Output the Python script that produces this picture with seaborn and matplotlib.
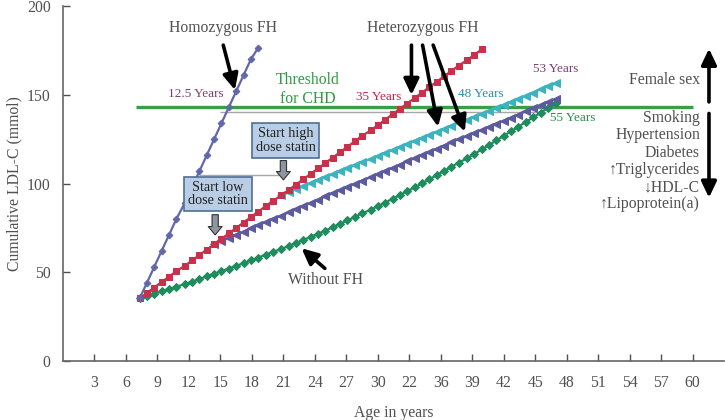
import matplotlib
matplotlib.use("Agg")
import matplotlib.pyplot as plt
import pandas as pd
import seaborn as sns

# ---------------- data ----------------
# x positions of the yearly points on the drawn age axis
x_age = [7.3, 8.0, 8.7, 9.4, 10.1, 10.8, 11.6, 12.3, 13.0, 13.7, 14.4, 15.1, 15.8,
         16.5, 17.2, 17.9, 18.6, 19.3, 20.0, 20.8, 21.5, 22.2, 22.9, 23.6, 24.3,
         25.0, 25.7, 26.4, 27.1, 27.8, 28.5, 29.3, 30.0, 30.7, 31.4, 32.1, 32.8,
         33.5, 34.2, 34.9, 35.6, 36.3, 37.0, 37.7, 38.5, 39.2, 39.9, 40.6, 41.3,
         42.0, 42.7, 43.4, 44.1, 44.8, 45.5, 46.2, 47.0]

homozygous = [35.3, 44.1, 53.1, 62.1, 71.0, 80.0, 89.0, 98.0, 107.0, 116.0, 125.0,
              134.0, 143.0, 152.0, 161.0, 170.0, 176.5]
homozygous_start = 0

heterozygous = [35.3, 38.4, 41.4, 44.5, 47.5, 50.6, 53.6, 56.7, 59.7, 62.8, 65.8,
                68.9, 71.9, 75.0, 78.0, 81.1, 84.1, 87.2, 90.2, 93.3, 96.3, 99.4,
                102.4, 105.5, 108.5, 111.6, 114.6, 117.7, 120.7, 123.8, 126.8, 129.9,
                132.9, 136.0, 139.0, 142.1, 145.1, 148.2, 151.2, 154.3, 157.3, 160.4,
                163.4, 166.5, 169.5, 172.6, 175.6]
heterozygous_start = 0

low_dose = [65.8, 67.6, 69.4, 71.1, 72.9, 74.7, 76.5, 78.3, 80.1, 81.9, 83.7, 85.5,
            87.3, 89.1, 90.9, 92.7, 94.5, 96.3, 98.1, 99.9, 101.7, 103.5, 105.3,
            107.1, 108.9, 110.7, 112.5, 114.3, 116.1, 117.9, 119.6, 121.4, 123.2,
            125.0, 126.7, 128.5, 130.2, 132.0, 133.7, 135.4, 137.2, 138.9, 140.6,
            142.3, 144.1, 145.8, 147.6]
low_dose_start = 10

high_dose = [93.3, 95.0, 96.7, 98.4, 100.1, 101.8, 103.5, 105.2, 106.9, 108.6, 110.3,
             112.1, 113.8, 115.5, 117.2, 118.9, 120.6, 122.3, 124.0, 125.7, 127.4,
             129.1, 130.8, 132.5, 134.2, 135.9, 137.6, 139.3, 141.0, 142.7, 144.4,
             146.1, 147.8, 149.6, 151.3, 153.0, 154.7, 156.4]
high_dose_start = 19

without_fh = [35.3, 36.6, 37.9, 39.2, 40.5, 41.9, 43.3, 44.7, 46.2, 47.7, 49.2,
              50.6, 52.1, 53.6, 55.1, 56.7, 58.3, 59.9, 61.5, 63.1, 64.8,
              66.5, 68.2, 69.9, 71.7, 73.5, 75.4, 77.3, 79.2, 81.2, 83.2,
              85.2, 87.2, 89.3, 91.4, 93.5, 95.7, 97.9, 100.1, 102.4, 104.7,
              107.0, 109.4, 111.8, 114.2, 116.7, 119.2, 121.7, 124.3, 126.9, 129.5,
              132.1, 134.7, 137.3, 139.9, 142.6, 145.2]
without_fh_start = 0

threshold = 143
x_ticks = [3, 6, 9, 12, 15, 18, 21, 24, 27, 30, 33, 36, 39, 42, 45, 48, 51, 54, 57, 60]
x_tick_labels = ["3", "6", "9", "12", "15", "18", "21", "24", "27", "30", "22", "36",
                 "39", "42", "45", "48", "51", "54", "57", "60"]
y_ticks = [0, 50, 100, 150, 200]

# ---------------- build long table ----------------
rows = []
for name, vals, start in [("homo", homozygous, homozygous_start),
                          ("hetero", heterozygous, heterozygous_start),
                          ("low", low_dose, low_dose_start),
                          ("high", high_dose, high_dose_start),
                          ("nofh", without_fh, without_fh_start)]:
    for i, v in enumerate(vals):
        rows.append({"series": name, "age": x_age[start + i], "ldl": v})
df = pd.DataFrame(rows)

sns.set_style("ticks")
plt.rcParams["font.family"] = ["Liberation Serif", "DejaVu Serif"]

fig = plt.figure(figsize=(7.25, 4.2), dpi=100)
ax = fig.add_axes([0.0869, 0.1405, 0.912, 0.845])

GRAY = "#505050"
# threshold + thin gray guide lines
ax.hlines(threshold, 7, 60, color="#3a9e48", lw=2.4, zorder=1)
ax.hlines(140.4, 15, 46, color="#a8a8a8", lw=1.0, zorder=0.9)
ax.hlines(104.8, 13, 20.8, color="#a8a8a8", lw=1.0, zorder=0.9)

styles = {
    "nofh":   dict(color="#1e8c5c", marker="D", markersize=3.6),
    "low":    dict(color="#5c5ba0", marker="<", markersize=5.2),
    "high":   dict(color="#3cb3c0", marker="<", markersize=5.2),
    "hetero": dict(color="#c8304c", marker="s", markersize=4.2),
    "homo":   dict(color="#6266ab", marker="D", markersize=3.4),
}
for name in ["nofh", "low", "high", "hetero", "homo"]:
    st = styles[name]
    sns.lineplot(data=df[df.series == name], x="age", y="ldl", ax=ax,
                 color=st["color"], marker=st["marker"], markersize=st["markersize"],
                 markeredgecolor=st["color"], markerfacecolor=st["color"],
                 lw=1.6, zorder=3, estimator=None, sort=False)

ax.set_xlim(0, 63)
ax.set_ylim(0, 200)
ax.set_xticks(x_ticks)
ax.set_xticklabels(x_tick_labels)
ax.set_yticks(y_ticks)
ax.tick_params(direction="in", length=5, width=1, color=GRAY, labelcolor=GRAY,
               labelsize=11.3, pad=9)
ax.tick_params(axis="x", pad=10)
for s in ["top", "right"]:
    ax.spines[s].set_visible(False)
for s in ["left", "bottom"]:
    ax.spines[s].set_color("#666666")
    ax.spines[s].set_linewidth(1.2)
ax.set_xlabel("Age in years", fontsize=11.3, color=GRAY, labelpad=10)
ax.set_ylabel("Cumulative LDL-C (mmol)", fontsize=11.3, color=GRAY, labelpad=3)

# ---------------- annotations ----------------
ax.text(15.2, 187.8, "Homozygous FH", ha="center", va="center", fontsize=11.3, color=GRAY)
ax.text(34.3, 187.8, "Heterozygous FH", ha="center", va="center", fontsize=11.3, color=GRAY)
ax.text(25.0, 45.6, "Without FH", ha="center", va="center", fontsize=11.3, color=GRAY)
ax.text(23.3, 153.0, "Threshold\nfor CHD", ha="center", va="center", fontsize=11.3,
        color="#2f9a3f", linespacing=1.25)

ax.text(12.7, 150.2, "12.5 Years", ha="center", va="center", fontsize=9.5, color="#7b3f73")
ax.text(30.1, 148.9, "35 Years", ha="center", va="center", fontsize=9.5, color="#cc2244")
ax.text(39.8, 150.2, "48 Years", ha="center", va="center", fontsize=9.5, color="#2a8fa8")
ax.text(46.9, 164.5, "53 Years", ha="center", va="center", fontsize=9.5, color="#7b3f73")
ax.text(48.6, 136.7, "55 Years", ha="center", va="center", fontsize=9.5, color="#2e8b50")

box = dict(boxstyle="square,pad=0.28", facecolor="#b9cde5", edgecolor="#4f6f94", lw=1.2)
ax.text(14.76, 94.1, "Start low\ndose statin", ha="center", va="center", fontsize=10.2,
        color="#222222", linespacing=1.05, bbox=box, zorder=5)
ax.text(21.2, 124.3, "Start high\ndose statin", ha="center", va="center", fontsize=10.2,
        color="#222222", linespacing=1.05, bbox=box, zorder=5)

block = dict(arrowstyle="simple,head_width=1.0,head_length=0.6,tail_width=0.45",
             fc="#8e959e", ec="#333333", lw=0.8, mutation_scale=10)
ax.annotate("", xy=(14.5, 69.5), xytext=(14.5, 84.0), arrowprops=block, zorder=6)
ax.annotate("", xy=(21.0, 100.5), xytext=(21.0, 114.5), arrowprops=block, zorder=6)

blk = dict(arrowstyle="-|>,head_width=0.38,head_length=0.8", color="black", lw=2.6,
           mutation_scale=12, shrinkA=0, shrinkB=0)
ax.annotate("", xy=(16.38, 152.7), xytext=(15.27, 178), arrowprops=blk, zorder=6)
ax.annotate("", xy=(33.2, 149.9), xytext=(33.2, 178), arrowprops=blk, zorder=6)
ax.annotate("", xy=(35.74, 132.0), xytext=(34.26, 178), arrowprops=blk, zorder=6)
ax.annotate("", xy=(38.29, 129.2), xytext=(35.27, 178), arrowprops=blk, zorder=6)
ax.annotate("", xy=(22.73, 63.5), xytext=(24.95, 52.2), arrowprops=blk, zorder=6)
ax.annotate("", xy=(61.55, 176.0), xytext=(61.55, 146.0), arrowprops=blk, zorder=6)
ax.annotate("", xy=(61.55, 92.0), xytext=(61.55, 139.5), arrowprops=blk, zorder=6)

ax.text(60.7, 158.3, "Female sex", ha="right", va="center", fontsize=11.3, color=GRAY)
ax.text(60.7, 141.3, "Smoking\nHypertension\nDiabetes\n\u2191Triglycerides\n\u2193HDL-C\n\u2191Lipoprotein(a)",
        ha="right", va="top", fontsize=11.3, color=GRAY, linespacing=1.1)

fig.savefig("out.png", dpi=100)
